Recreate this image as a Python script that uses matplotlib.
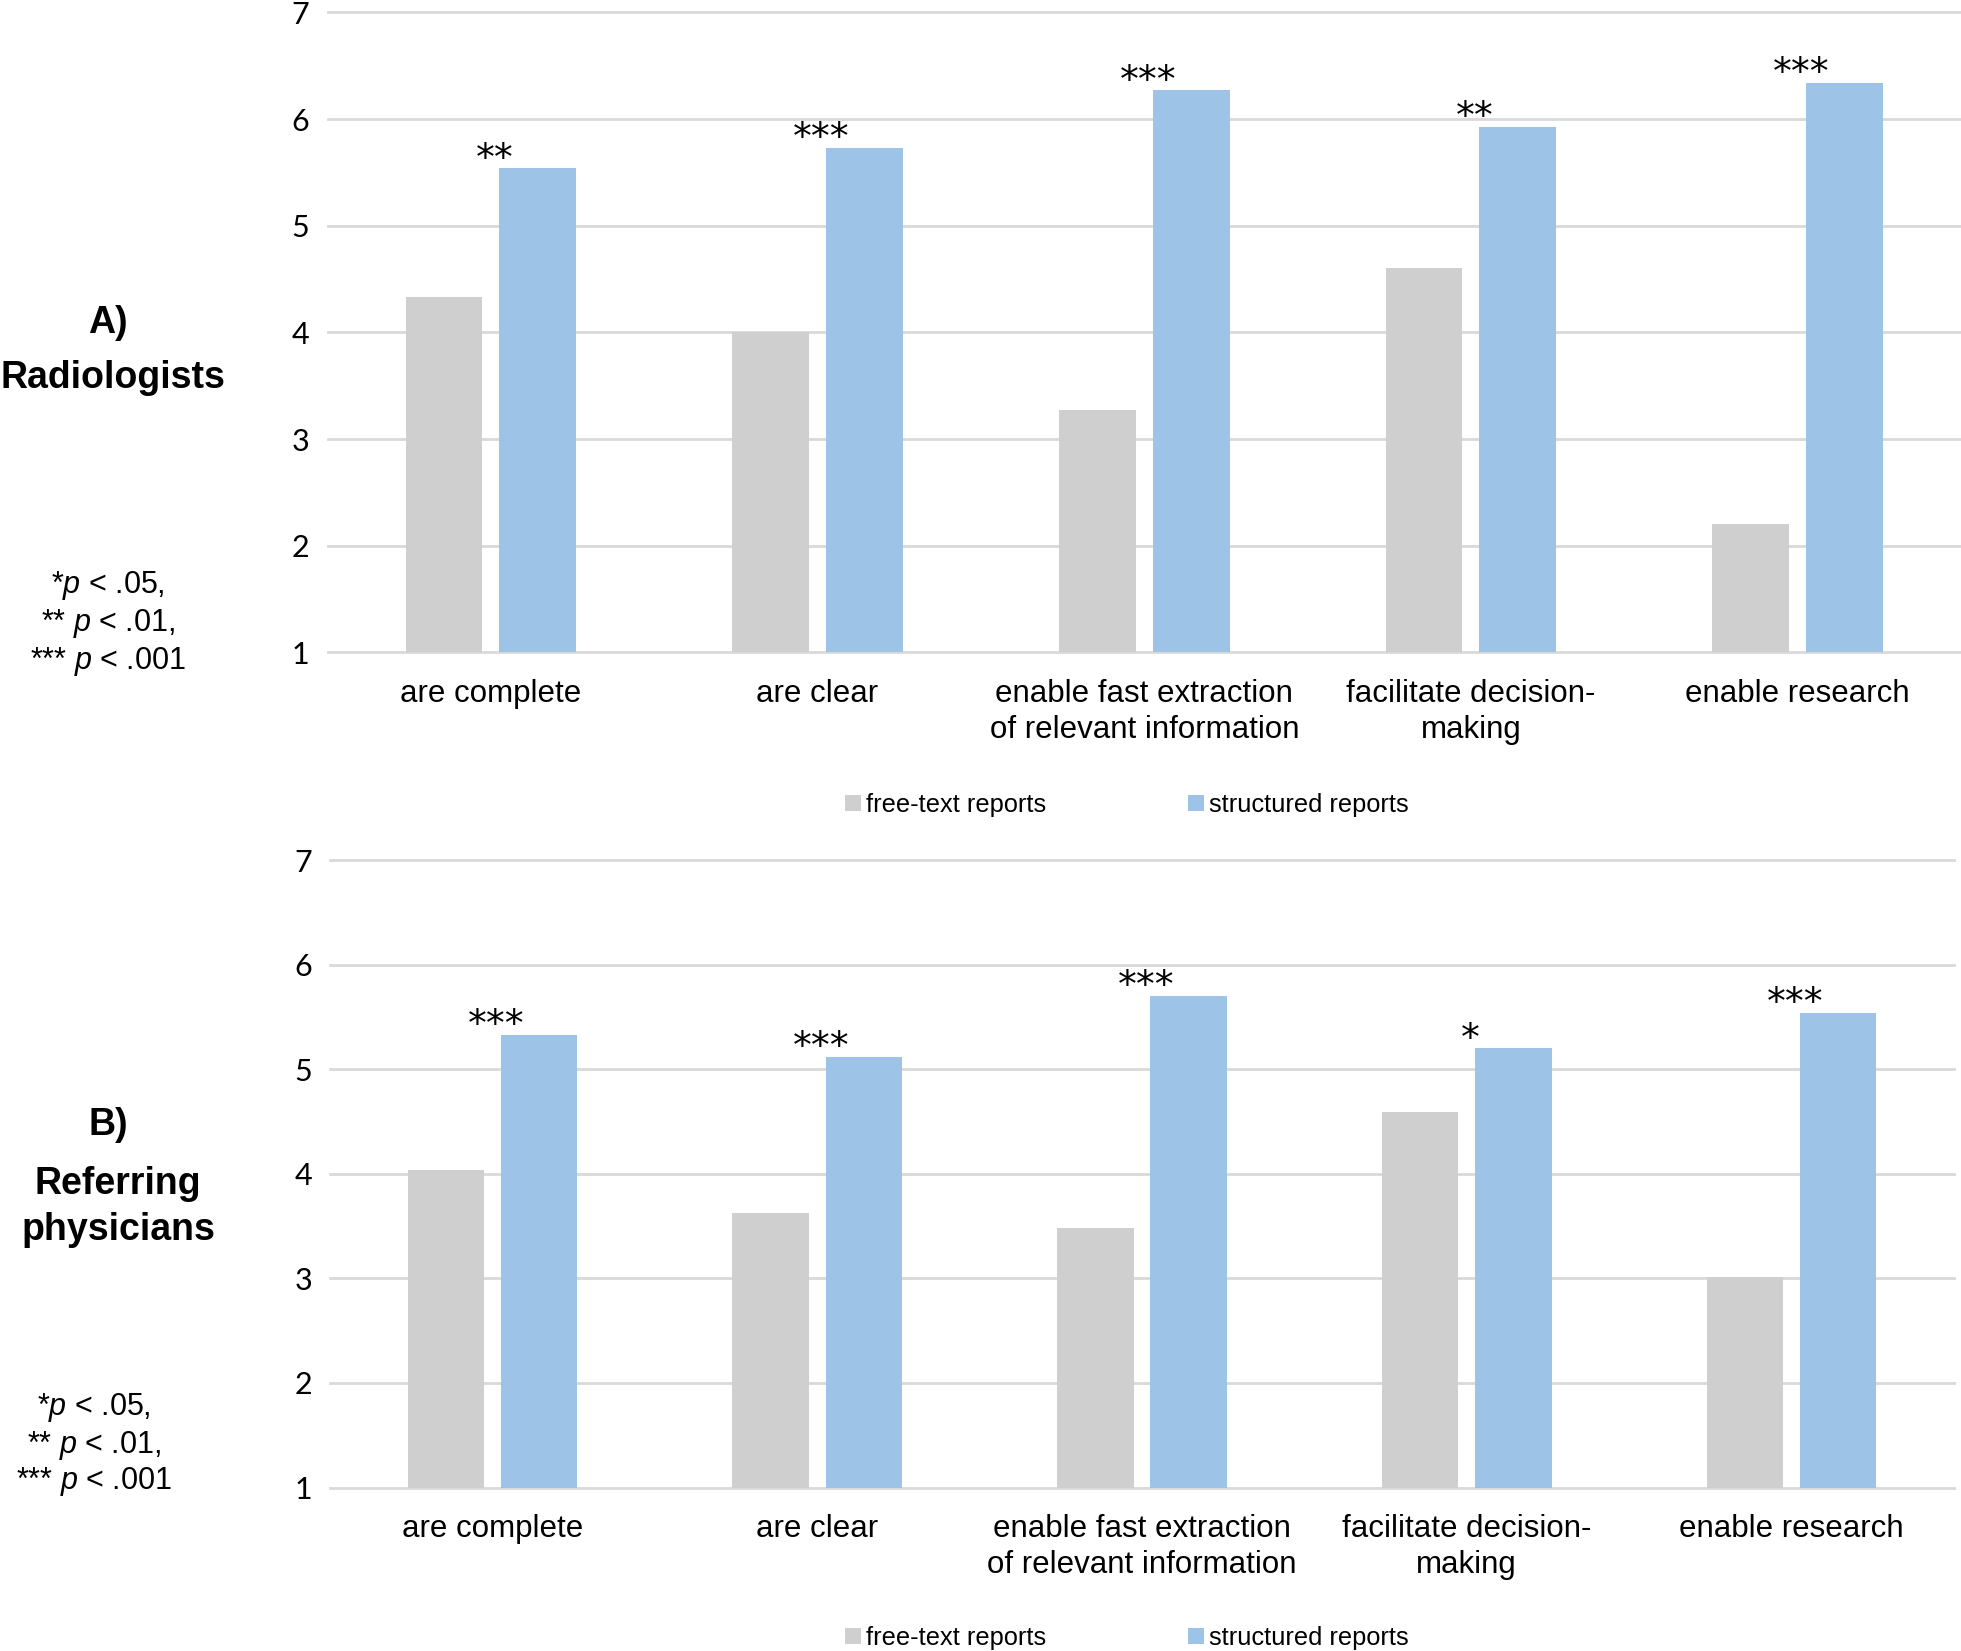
import matplotlib
matplotlib.use("Agg")
import matplotlib.pyplot as plt
from matplotlib.patches import Patch
import numpy as np

plt.rcParams['font.family'] = ['Liberation Sans', 'DejaVu Sans']
plt.rcParams['mathtext.fontset'] = 'custom'
plt.rcParams['mathtext.rm'] = 'Liberation Sans'
plt.rcParams['mathtext.it'] = 'Liberation Sans:italic'

categories = ["are complete", "are clear", "enable fast extraction\nof relevant information",
              "facilitate decision-\nmaking", "enable research"]
series_names = ["free-text reports", "structured reports"]

rad_free = [4.33, 4.00, 3.27, 4.60, 2.20]
rad_struct = [5.54, 5.73, 6.27, 5.93, 6.34]
rad_sig = ["**", "***", "***", "**", "***"]

ref_free = [4.04, 3.62, 3.48, 4.59, 3.01]
ref_struct = [5.33, 5.12, 5.70, 5.20, 5.54]
ref_sig = ["***", "***", "***", "*", "***"]

yticks = [1, 2, 3, 4, 5, 6, 7]

GREY = "#D0CFD0"
BLUE = "#9DC3E6"
GRID = "#D9D9D9"

W, H = 1961, 1651
fig = plt.figure(figsize=(W / 100, H / 100), dpi=100)


def px_axes(x0, y0, x1, y1):
    return fig.add_axes([x0 / W, 1 - y1 / H, (x1 - x0) / W, (y1 - y0) / H])


def draw_panel(ax, free, struct, sig):
    x = np.arange(len(categories))
    bw = 0.235
    off = 0.1435
    ax.bar(x - off, free, bw, bottom=0, color=GREY, zorder=3)
    ax.bar(x + off, struct, bw, bottom=0, color=BLUE, zorder=3)
    ax.set_xlim(-0.5, len(categories) - 0.5)
    ax.set_ylim(1, 7)
    for yv in yticks:
        ax.axhline(yv, color=GRID, lw=2.0, zorder=1, clip_on=False)
    for s in ax.spines.values():
        s.set_visible(False)
    ax.set_yticks(yticks)
    ax.set_yticklabels([str(v) for v in yticks], family='Lato', fontsize=22)
    ax.tick_params(axis='y', length=0, pad=13)
    ax.set_xticks(x)
    ax.set_xticklabels(categories, fontsize=22.5, linespacing=1.28)
    ax.tick_params(axis='x', length=0, pad=19)
    for xi, v, s in zip(x, struct, sig):
        ax.annotate(s, (xi + 0.012, v), xytext=(0, -1), textcoords='offset points',
                    ha='center', va='baseline', fontsize=27, family='DejaVu Sans',
                    annotation_clip=False)


axA = px_axes(327.5, 12.5, 1961, 652.5)
draw_panel(axA, rad_free, rad_struct, rad_sig)
axB = px_axes(330, 860, 1954, 1487.5)
draw_panel(axB, ref_free, ref_struct, ref_sig)

handles = [Patch(facecolor=GREY, edgecolor='none'), Patch(facecolor=BLUE, edgecolor='none')]
for yc in (805, 1638):
    fig.legend(handles, series_names, loc='center', bbox_to_anchor=(1127 / W, 1 - yc / H),
               ncol=2, frameon=False, fontsize=18.3, handlelength=0.62, handleheight=0.62,
               handletextpad=0.2, columnspacing=5.6, borderpad=0)


def ftext(x, y, s, **kw):
    fig.text(x / W, 1 - y / H, s, ha='center', va='center', **kw)


ftext(108, 323, "A)", fontsize=27, fontweight='bold')
ftext(113, 378, "Radiologists", fontsize=27, fontweight='bold')
ftext(108, 1125, "B)", fontsize=27, fontweight='bold')
ftext(118, 1184, "Referring", fontsize=27, fontweight='bold')
ftext(118, 1230, "physicians", fontsize=27, fontweight='bold')

pnotes = [r"*$\it{p}$ < .05,", r"** $\it{p}$ < .01,", r"*** $\it{p}$ < .001"]
for yy, s in zip((586, 624, 661), pnotes):
    ftext(108, yy, s, fontsize=22)
for yy, s in zip((1407, 1445, 1481), pnotes):
    ftext(94, yy, s, fontsize=22)

fig.savefig("out.png", dpi=100)
